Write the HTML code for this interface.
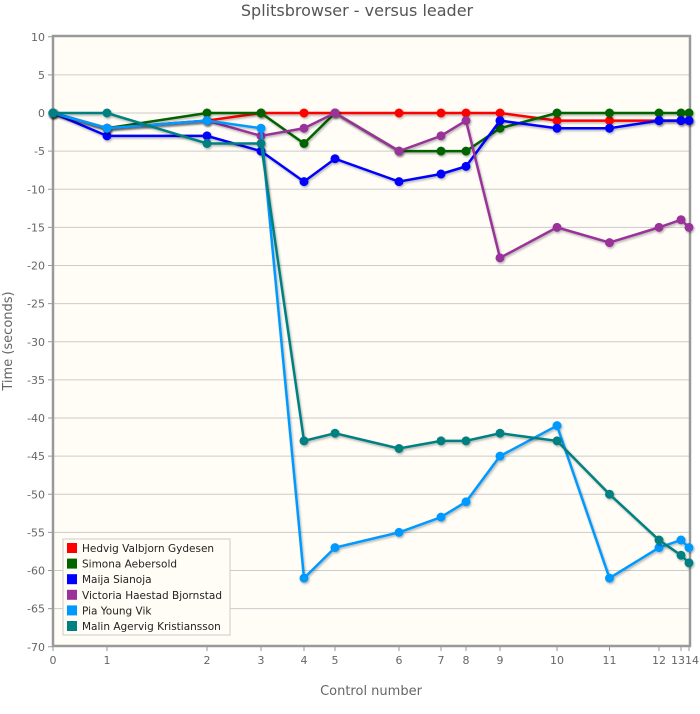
<!DOCTYPE html>
<html><head><meta charset="utf-8"><style>
body{margin:0;background:#fff;width:700px;height:709px;overflow:hidden}
svg{font-family:"DejaVu Sans","Liberation Sans",sans-serif}
</style></head><body>
<svg id="s" width="700" height="709" xmlns="http://www.w3.org/2000/svg">
<defs><filter id="sh" x="-5%" y="-5%" width="110%" height="110%"><feDropShadow dx="1" dy="1.5" stdDeviation="1" flood-color="#000" flood-opacity="0.3"/></filter></defs>
<text x="357" y="16" text-anchor="middle" font-size="16" fill="#555">Splitsbrowser - versus leader</text>
<rect x="53" y="36" width="637" height="610" fill="#fffdf6"/>
<g id="grid"></g>
<rect x="53" y="36" width="637" height="610" fill="none" stroke="#999" stroke-width="2.5"/>
<g id="ser"></g>
<text x="371" y="695" text-anchor="middle" font-size="13" fill="#666">Control number</text>
<text transform="translate(12,341) rotate(-90)" text-anchor="middle" font-size="13" fill="#666">Time (seconds)</text>
<g id="leg"></g>
</svg>
<script>
var NS="http://www.w3.org/2000/svg";
function el(p,t,a,txt){var e=document.createElementNS(NS,t);for(var k in a)e.setAttribute(k,a[k]);if(txt!=null)e.textContent=txt;p.appendChild(e);return e;}
var X=[53,107,207,261,304,335,399,441,466,500,557,609.5,659,681,689];
function Y(v){return 113-v*7.625;}
var g=document.getElementById('grid');
for(var v=10;v>=-70;v-=5){var y=Y(v);
 if(v<10&&v>-70)el(g,'line',{x1:53,x2:690,y1:y,y2:y,stroke:'#ccc','stroke-width':1});
 el(g,'line',{x1:48,x2:53,y1:y,y2:y,stroke:'#999'});
 el(g,'text',{x:45,y:y+4,'text-anchor':'end','font-size':11,fill:'#666'},String(v));}
for(var i=0;i<15;i++){el(g,'line',{x1:X[i],x2:X[i],y1:646,y2:651,stroke:'#999'});
 el(g,'text',{x:X[i]+(i==13?-3:i==14?3:0),y:664,'text-anchor':'middle','font-size':11,fill:'#666'},String(i));}
var S=[
["Hedvig Valbjorn Gydesen","#ff0000",[0,-2,-1,0,0,0,0,0,0,0,-1,-1,-1,-1,-1]],
["Simona Aebersold","#006400",[0,-2,0,0,-4,0,-5,-5,-5,-2,0,0,0,0,0]],
["Maija Sianoja","#0000ff",[0,-3,-3,-5,-9,-6,-9,-8,-7,-1,-2,-2,-1,-1,-1]],
["Victoria Haestad Bjornstad","#993399",[0,-2,-1,-3,-2,0,-5,-3,-1,-19,-15,-17,-15,-14,-15]],
["Pia Young Vik","#0099ff",[0,-2,-1,-2,-61,-57,-55,-53,-51,-45,-41,-61,-57,-56,-57]],
["Malin Agervig Kristiansson","#008080",[0,0,-4,-4,-43,-42,-44,-43,-43,-42,-43,-50,-56,-58,-59]]];
var sg=document.getElementById('ser'),lg=document.getElementById('leg');
el(lg,'rect',{x:63,y:539,width:167,height:96,fill:'#fffdf6',stroke:'#ccc'});
S.forEach(function(s,j){
 var gg=el(sg,'g',{filter:'url(#sh)'});
 var pts=s[2].map(function(v,i){return X[i]+','+Y(v);}).join(' ');
 el(gg,'polyline',{points:pts,fill:'none',stroke:s[1],'stroke-width':2.5});
 s[2].forEach(function(v,i){el(gg,'circle',{cx:X[i],cy:Y(v),r:4.5,fill:s[1]});});
 var ly=548+j*15.6;
 el(lg,'rect',{x:67,y:ly-5,width:10,height:10,fill:s[1]});
 el(lg,'text',{x:82,y:ly+4,'font-size':10.5,fill:'#222'},s[0]);
});
</script>
</body></html>
